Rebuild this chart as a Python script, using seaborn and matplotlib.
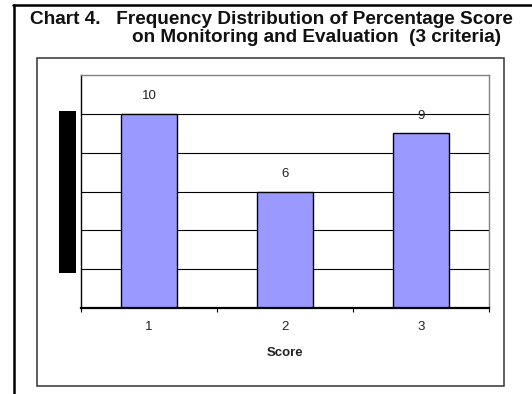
import matplotlib
matplotlib.use("Agg")
import matplotlib.pyplot as plt
from matplotlib.patches import Rectangle
from matplotlib.lines import Line2D
import seaborn as sns
import pandas as pd

# Data
scores = ["1", "2", "3"]
frequencies = [10, 6, 9]
y_max = 12
grid_values = [2, 4, 6, 8, 10]

title_line1 = "Chart 4.   Frequency Distribution of Percentage Score"
title_line2 = "on Monitoring and Evaluation  (3 criteria)"
x_label = "Score"

sns.set_theme(style="white")
plt.rcParams["font.family"] = ["Liberation Sans", "DejaVu Sans"]

df = pd.DataFrame({"Score": scores, "Frequency": frequencies})

W, H = 532, 394
fig = plt.figure(figsize=(W / 100, H / 100), dpi=100)
fig.patch.set_facecolor("white")

def fx(px):
    return px / W

def fy(py):
    return 1 - py / H

ax = fig.add_axes([fx(81), fy(308), fx(489) - fx(81), fy(75) - fy(308)])

sns.barplot(data=df, x="Score", y="Frequency", color="#9999FF", saturation=1,
            edgecolor="black", linewidth=1.0, width=0.41, ax=ax, zorder=3)

ax.set_ylim(0, y_max)
ax.set_xlim(-0.5, 2.5)

# horizontal gridlines
for g in grid_values:
    ax.axhline(g, color="black", lw=0.8, zorder=1)

# value labels
for i, v in enumerate(frequencies):
    ax.annotate(str(v), (i, v), xytext=(0, 12.5), textcoords="offset points",
                ha="center", va="center", fontsize=9.5, color="#222222", zorder=4)

# ticks: marks at category boundaries, labels at centers
ax.set_yticks([])
ax.set_xticks([-0.5, 0.5, 1.5, 2.5])
ax.set_xticklabels([])
ax.set_xticks([0, 1, 2], minor=True)
ax.set_xticklabels(scores, minor=True)
ax.tick_params(axis="x", which="major", direction="out", length=3, width=0.8,
               color="black", bottom=True)
ax.tick_params(axis="x", which="minor", length=0, pad=9, labelsize=9.5,
               labelcolor="#222222", bottom=True)
ax.set_ylabel("")
ax.set_xlabel(x_label, fontsize=9.5, fontweight="bold", color="#222222")
ax.xaxis.set_label_coords(0.5, -0.193)
ax.xaxis.label.set_va("center")

for side in ["top", "right"]:
    ax.spines[side].set_color("#808080")
    ax.spines[side].set_linewidth(1.0)
ax.spines["left"].set_color("black")
ax.spines["left"].set_linewidth(1.0)
ax.spines["bottom"].set_color("black")
ax.spines["bottom"].set_linewidth(1.6)
ax.spines["bottom"].set_zorder(5)

# chart frame
fig.patches.append(Rectangle((fx(37), fy(386)), fx(504) - fx(37), fy(58) - fy(386),
                             transform=fig.transFigure, fill=False,
                             edgecolor="#333333", linewidth=1.1))

# solid block where the y-axis title sits
fig.patches.append(Rectangle((fx(59), fy(273)), fx(76) - fx(59), fy(111) - fy(273),
                             transform=fig.transFigure, facecolor="black",
                             edgecolor="none"))

# outer table rules
fig.lines.append(Line2D([fx(14), fx(14)], [0, fy(5)], transform=fig.transFigure,
                        color="black", linewidth=1.8))
fig.lines.append(Line2D([fx(13), 1], [fy(5), fy(5)], transform=fig.transFigure,
                        color="black", linewidth=1.8))

# title
fig.text(fx(30), fy(20), title_line1, ha="left", va="center", fontsize=13.7,
         fontweight="bold", color="#111111")
fig.text(fx(132), fy(38), title_line2, ha="left", va="center", fontsize=13.7,
         fontweight="bold", color="#111111")

fig.savefig("out.png", dpi=100)
